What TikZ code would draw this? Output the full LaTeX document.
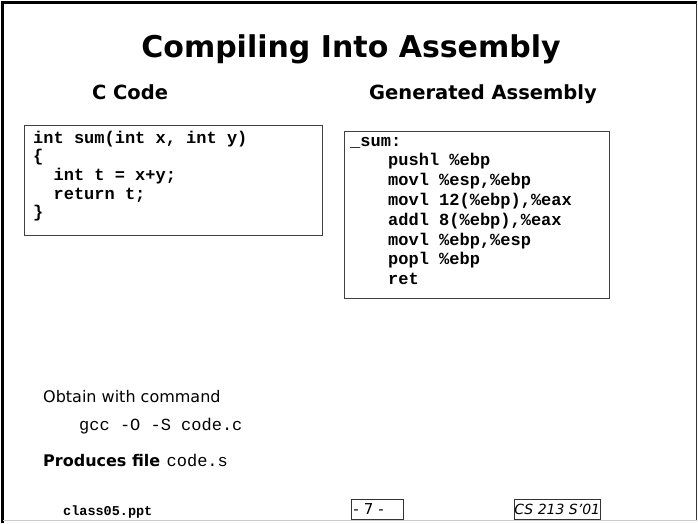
\documentclass[tikz,border=0pt]{standalone}
\usepackage{fontspec}
\usetikzlibrary{positioning}
\setmainfont{DejaVu Sans}
\setmonofont{Liberation Mono}

\tikzset{
  slidetitle/.style={anchor=base, inner sep=0pt, font=\fontsize{30}{34}\bfseries},
  colhead/.style={anchor=base, inner sep=0pt, font=\fontsize{19.5}{23}\bfseries},
  codebox/.style={draw=black!75, line width=1pt},
  codeline/.style={anchor=base west, inner sep=0pt, font=\fontsize{17}{20}\ttfamily\bfseries},
  plainline/.style={anchor=base west, inner sep=0pt, font=\fontsize{16}{19}\selectfont},
  cmdline/.style={anchor=base west, inner sep=0pt, font=\fontsize{17}{20}\ttfamily},
  footbox/.style={draw=black!80, line width=0.8pt, anchor=north west, inner sep=0pt,
    minimum height=20pt, text depth=0pt}
}

\begin{document}
\begin{tikzpicture}[x=1pt, y=-1pt]
  \useasboundingbox (0,0) rectangle (698,523);
  % slide frame
  \draw[line width=2.5pt] (2.5,523) -- (2.5,2.5) -- (697,2.5);
  \draw[black!80, line width=1.5pt] (696.5,2.5) -- (696.5,520);
  \draw[black!20, line width=1pt] (2.5,520) -- (696.5,520);

  % headings
  \node[slidetitle] (title) at (351,57) {Compiling Into Assembly};
  \node[colhead] (chead) at (130,99) {C Code};
  \node[colhead] (ahead) at (483,99) {Generated Assembly};

  % C source
  \draw[codebox] (24,125) rectangle (322,235);
  \node[codeline] (c1) at (33,143) {int sum(int x, int y)};
  \node[codeline] (c2) at (33,161.7) {\{};
  \node[codeline] (c3) at (33,180.4) {\ \ int t = x+y;};
  \node[codeline] (c4) at (33,199.1) {\ \ return t;};
  \node[codeline] (c5) at (33,217.8) {\}};

  % assembly output
  \draw[codebox] (344,131) rectangle (609,298);
  \node[codeline] (a0) at (350,146) {\_sum:};
  \foreach \ins [count=\i] in {pushl \%ebp, movl \%esp{,}\%ebp, movl 12(\%ebp){,}\%eax,
      addl 8(\%ebp){,}\%eax, movl \%ebp{,}\%esp, popl \%ebp, ret}
    \node[codeline] (a\i) at (388,146+19.8*\i) {\ins};

  % command
  \node[plainline] (obtain) at (43,402) {Obtain with command};
  \node[cmdline] (gcc) at (79,430) {gcc -O -S code.c};
  \node[plainline, font=\fontsize{16}{19}\bfseries] (produces) at (43,466) {Produces file};
  \node[cmdline, right=6pt of produces.base east, anchor=base west] (outfile) {code.s};

  % footer
  \node[anchor=base west, inner sep=0pt, font=\fontsize{13.5}{16}\ttfamily\bfseries] (deck) at (63,515) {class05.ppt};
  \node[footbox, minimum width=52pt, font=\fontsize{15}{18}\selectfont, text width=48pt, align=left] (page) at (351,499) {- 7 -};
  \node[footbox, minimum width=80pt, font=\fontsize{14}{17}\itshape] (course) at (514,499) {CS 213 S'01};
\end{tikzpicture}
\end{document}
